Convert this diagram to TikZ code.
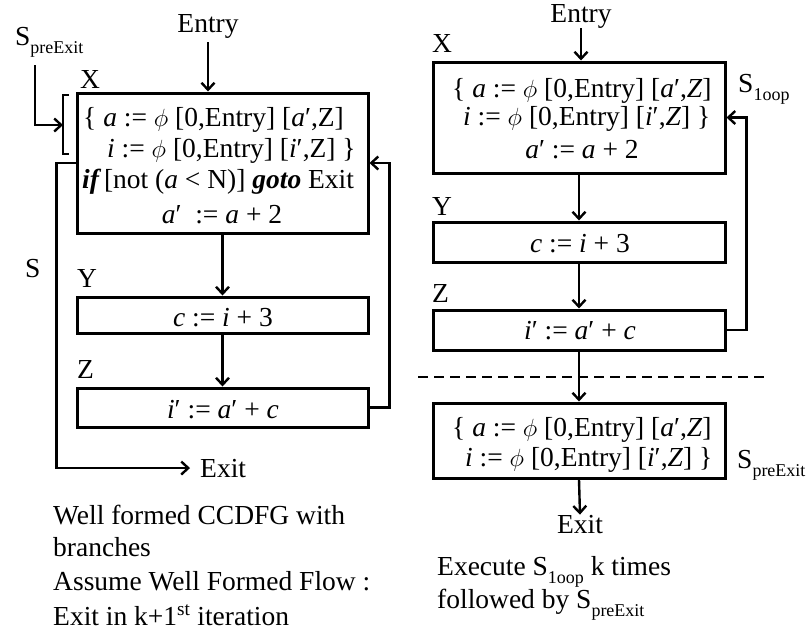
\documentclass[tikz,border=0pt]{standalone}
\usepackage{fontspec}
\setmainfont{Liberation Serif}
\usetikzlibrary{arrows.meta}
\newcommand{\fz}{\fontsize{27.5}{30}\selectfont}
\newcommand{\subs}[1]{\raisebox{-8pt}{\fontsize{18}{18}\selectfont #1}}
\newcommand{\ph}{$\phi$}
\newcommand{\bi}[1]{\textbf{\textit{#1}}}
\begin{document}
\begin{tikzpicture}[x=1pt,y=-1pt,
  box/.style={draw, line width=3pt, inner sep=0pt, minimum width=291pt},
  txt/.style={inner sep=0pt, font=\fz},
  lbl/.style={inner sep=0pt, font=\fz, anchor=base west},
  ctr/.style={inner sep=0pt, font=\fz, anchor=base},
  arr/.style={-{Straight Barb[length=7pt,width=13pt]}, line width=2.4pt}]
\useasboundingbox (0,0) rectangle (806,633);

% ---------------- left diagram ----------------
\node[box, minimum height=140pt] (lx) at (222.5,163) {};
\node[box, minimum height=36pt] (ly) at (222.5,315) {};
\node[box, minimum height=39pt] (lz) at (222.5,407.5) {};

\node[lbl] (lx1) at (83,126) {\{ \textit{a} := \ph{} [0,Entry] [\textit{a}′,Z]};
\node[lbl] (lx2) at (107,157) {\textit{i} := \ph{} [0,Entry] [\textit{i}′,Z] \}};
\node[lbl] (lx3) at (82,188) {\bi{if}\hspace{0.1em}[not (\textit{a} < N)] \bi{goto} Exit};
\node[ctr] (lx4) at (222,223) {\textit{a}′\hspace{0.25em} := \textit{a} + 2};
\node[ctr] (ly1) at (223,326) {\textit{c} := \textit{i} + 3};
\node[ctr] (lz1) at (223,418) {\textit{i}′ := \textit{a}′ + \textit{c}};

\node[ctr] (lentry) at (208,32) {Entry};
\node[lbl] (lxl) at (80,88) {X};
\node[lbl] (lyl) at (77,287) {Y};
\node[lbl] (lzl) at (77,378) {Z};
\node[lbl] (ls) at (25,277) {S};
\node[lbl] (lsp) at (15,45) {S\subs{preExit}};
\node[lbl] (lexit) at (200,477) {Exit};

\coordinate (lspa) at (35,65);
\coordinate (brk) at (63,125);
\coordinate (brt) at (63,95);
\coordinate (brb) at (63,154);
\draw[line width=2.6pt] ([xshift=6pt]brt) -- (brt) -- (brb) -- ([xshift=6pt]brb);
\draw[arr] (lspa) |- (brk);

\draw[arr] ([yshift=-4pt]lentry.south) -- (lentry.south |- lx.north);
\draw[arr] (lx.south) -- (ly.north);
\draw[arr] (ly.south) -- (lz.north);
\draw[arr] (lz.east) -- ++(20,0) |- (lx.east);
\draw[arr] (lx.west) -- ++(-19,0) |- ([xshift=-10pt]lexit.west);

\node[lbl] (c1) at (53,524) {Well formed CCDFG with};
\node[lbl] (c2) at (53,556) {branches};
\node[lbl] (c3) at (53,590) {Assume Well Formed Flow :};
\node[lbl] (c4) at (53,625) {Exit in k+1\textsuperscript{st} iteration};

% ---------------- right diagram ----------------
\node[box, minimum width=292pt, minimum height=111pt] (rx) at (579,117.5) {};
\node[box, minimum width=292pt, minimum height=40pt] (ry) at (579,242) {};
\node[box, minimum width=292pt, minimum height=40pt] (rz) at (579,330) {};
\node[box, minimum width=292pt, minimum height=75pt] (rp) at (579,440.5) {};

\node[lbl] (rx1) at (452,97) {\{ \textit{a} := \ph{} [0,Entry] [\textit{a}′,\textit{Z}]};
\node[lbl] (rx2) at (463,125) {\textit{i} := \ph{} [0,Entry] [\textit{i}′,\textit{Z}] \}};
\node[ctr] (rx3) at (582,158) {\textit{a}′ := \textit{a} + 2};
\node[ctr] (ry1) at (580,252) {\textit{c} := \textit{i} + 3};
\node[ctr] (rz1) at (580,339) {\textit{i}′ := \textit{a}′ + \textit{c}};
\node[lbl] (rp1) at (452,436) {\{ \textit{a} := \ph{} [0,Entry] [\textit{a}′,\textit{Z}]};
\node[lbl] (rp2) at (465,466) {\textit{i} := \ph{} [0,Entry] [\textit{i}′,\textit{Z}] \}};

\node[ctr] (rentry) at (581,22) {Entry};
\node[lbl] (rxl) at (432,52) {X};
\node[lbl] (ryl) at (432,215) {Y};
\node[lbl] (rzl) at (432,302) {Z};
\node[lbl] (rsl) at (738,92) {S\subs{1oop}};
\node[lbl] (rsp) at (737,468) {S\subs{preExit}};
\node[ctr] (rexit) at (580,533) {Exit};

\draw[arr] (rentry.south) -- (rentry.south |- rx.north);
\draw[arr] (rx.south) -- (ry.north);
\draw[arr] (ry.south) -- (rz.north);
\draw[arr] (rz.east) -- ++(20,0) |- (rx.east);
\draw[arr] (rz.south) -- (rp.north);
\draw[arr] (rp.south) -- (rexit.north);

\coordinate (d1) at (418,377);
\coordinate (d2) at (768,377);
\draw[line width=2pt, dash pattern=on 10pt off 6pt] (d1) -- (d2);

\node[lbl] (c5) at (437,575) {Execute S\subs{1oop} k times};
\node[lbl] (c6) at (437,608) {followed by S\subs{preExit}};
\end{tikzpicture}
\end{document}
